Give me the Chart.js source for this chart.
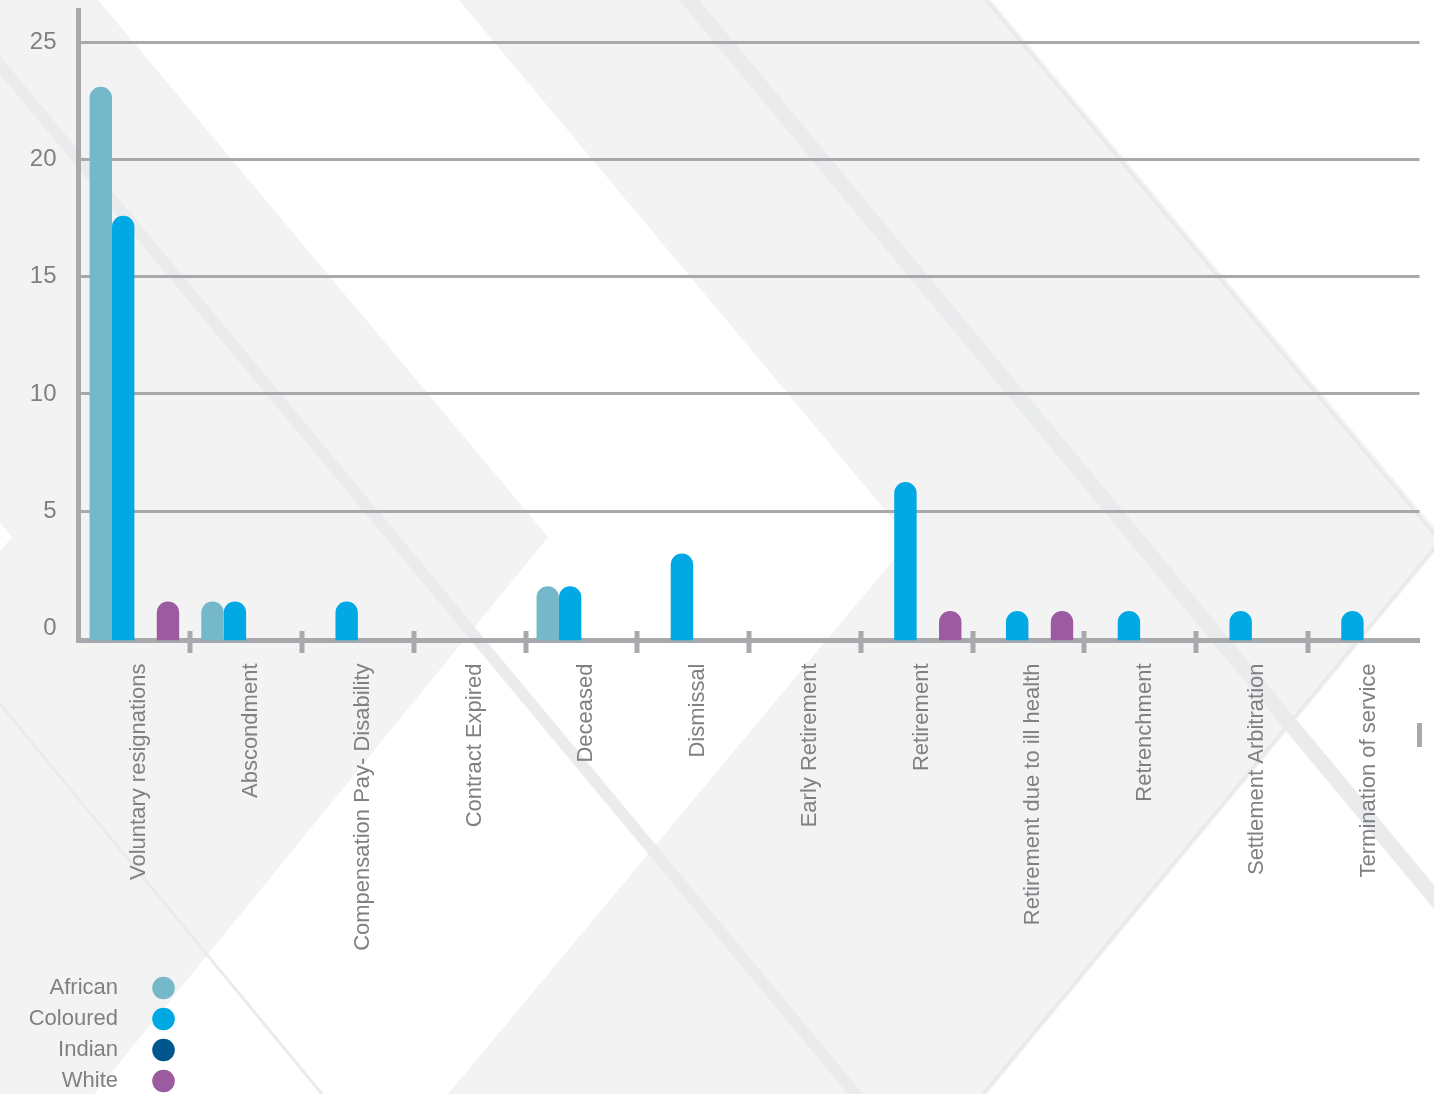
<!DOCTYPE html>
<html>
<head>
<meta charset="utf-8">
<title>Terminations by reason and race</title>
<style>
  html, body { margin: 0; padding: 0; background: #ffffff; overflow: hidden; }
  canvas { display: block; }
</style>
<script src="https://cdn.jsdelivr.net/npm/chart.js@4.4.1/dist/chart.umd.min.js"></script>
</head>
<body>
<canvas id="chart" width="1434" height="1094"></canvas>
<script>
// ---- Data -------------------------------------------------------------
const categories = [
  'Voluntary resignations',
  'Abscondment',
  'Compensation Pay- Disability',
  'Contract Expired',
  'Deceased',
  'Dismissal',
  'Early Retirement',
  'Retirement',
  'Retirement due to ill health',
  'Retrenchment',
  'Settlement Arbitration',
  'Termination of service'
];
const groups = ['African', 'Coloured', 'Indian', 'White'];

const african  = [23.1, 1.15, 0,    0, 1.8, 0,   0, 0,    0,    0,    0,    0];
const coloured = [17.6, 1.15, 1.15, 0, 1.8, 3.2, 0, 6.25, 0.75, 0.75, 0.75, 0.75];
const indian   = [0,    0,    0,    0, 0,   0,   0, 0,    0,    0,    0,    0];
const white    = [1.15, 0,    0,    0, 0,   0,   0, 0.75, 0.75, 0,    0,    0];

const yTicks = [0, 5, 10, 15, 20, 25];

// ---- Styling ----------------------------------------------------------
const seriesValues = [african, coloured, indian, white];
const seriesColors = ['#74b8c9', '#00a9e4', '#00578d', '#9c5ba0'];
const AXIS_GREY = '#a7a9ac';
const TEXT_GREY = '#7e8083';
const FONT = '"Liberation Sans", Arial, Helvetica, sans-serif';
const Y_MIN = -0.51;
const Y_MAX = 26.37;

// Soft chevron bands behind the plot
const backdrop = {
  id: 'backdrop',
  beforeDraw(chart) {
    const ctx = chart.ctx;
    const poly = (pts, fill) => {
      ctx.beginPath();
      ctx.moveTo(pts[0][0], pts[0][1]);
      for (let i = 1; i < pts.length; i++) ctx.lineTo(pts[i][0], pts[i][1]);
      ctx.closePath();
      ctx.fillStyle = fill;
      ctx.fill();
    };
    const line = (a, b, w, col) => {
      ctx.beginPath();
      ctx.moveTo(a[0], a[1]);
      ctx.lineTo(b[0], b[1]);
      ctx.lineWidth = w;
      ctx.strokeStyle = col;
      ctx.stroke();
    };
    ctx.save();
    ctx.fillStyle = '#ffffff';
    ctx.fillRect(0, 0, chart.width, chart.height);

    const band = '#f3f3f4';
    // left chevron
    poly([[0, 0], [98, 0], [548, 537], [94, 1094], [0, 1094]], band);
    poly([[0, 523], [12, 537], [0, 551]], '#ffffff');
    // middle chevron
    poly([[459, 0], [991, 0], [1445, 540], [987, 1094], [448, 1094], [910, 540]], band);

    // darker diagonal stripes
    const stripe = '#eaebec';
    poly([[0, 56], [0, 74], [848, 1094], [863, 1094]], stripe);
    poly([[679, 0], [699, 0], [1454, 909], [1434, 909]], stripe);

    // fine edge lines
    line([986, 0], [1440, 541], 3, '#e8e9ea');
    line([1440, 541], [983, 1094], 3, '#e8e9ea');
    line([0, 704], [322, 1094], 3, '#ebebec');
    ctx.restore();
  }
};

// Category separators that cross the x axis, plus the legend block
const decorations = {
  id: 'decorations',
  afterDraw(chart) {
    const ctx = chart.ctx;
    const x = chart.scales.x;
    const area = chart.chartArea;
    ctx.save();
    ctx.fillStyle = AXIS_GREY;
    for (let i = 1; i < categories.length; i++) {
      const px = (x.getPixelForValue(i - 1) + x.getPixelForValue(i)) / 2;
      ctx.fillRect(Math.round(px) - 2.5, area.bottom - 9.5, 5, 22);
    }
    ctx.fillRect(area.right - 2.5, area.bottom + 82.5, 5, 24);

    // legend: label on the left, colour dot on the right
    const top = chart.height - 106;
    chart.data.datasets.forEach((ds, i) => {
      const cy = top + i * 31;
      ctx.font = '22px ' + FONT;
      ctx.fillStyle = TEXT_GREY;
      ctx.textAlign = 'right';
      ctx.textBaseline = 'middle';
      ctx.fillText(ds.label, 118, cy);
      ctx.beginPath();
      ctx.arc(163.5, cy, 11.3, 0, Math.PI * 2);
      ctx.fillStyle = ds.backgroundColor;
      ctx.fill();
    });
    ctx.restore();
  }
};

new Chart(document.getElementById('chart'), {
  type: 'bar',
  data: {
    labels: categories,
    datasets: groups.map((g, i) => ({
      label: g,
      data: seriesValues[i].map(v => (v > 0 ? v : null)),
      backgroundColor: seriesColors[i],
      base: Y_MIN,
      categoryPercentage: 0.802,
      barPercentage: 1.0,
      borderWidth: 0,
      borderRadius: { topLeft: 12, topRight: 12, bottomLeft: 0, bottomRight: 0 }
    }))
  },
  options: {
    responsive: false,
    animation: false,
    devicePixelRatio: 1,
    layout: { padding: { left: 0, top: 10, right: 14.5, bottom: 0 } },
    plugins: {
      legend: { display: false },
      tooltip: { enabled: false }
    },
    scales: {
      x: {
        type: 'category',
        afterFit(scale) {
          scale.height = 1094 - 640.5;
          scale.paddingLeft = 0;
          scale.paddingRight = 0;
          scale.paddingTop = 0;
          scale.paddingBottom = 0;
        },
        grid: { display: false, drawTicks: false },
        border: { display: true, color: AXIS_GREY, width: 5 },
        ticks: {
          autoSkip: false,
          minRotation: 90,
          maxRotation: 90,
          padding: 23,
          labelOffset: 5,
          color: TEXT_GREY,
          font: { family: FONT, size: 22 }
        }
      },
      y: {
        min: Y_MIN,
        max: Y_MAX,
        afterBuildTicks(scale) { scale.ticks = yTicks.map(v => ({ value: v })); },
        afterFit(scale) {
          scale.width = 78.5;
          scale.paddingLeft = 0;
          scale.paddingRight = 0;
          scale.paddingTop = 0;
          scale.paddingBottom = 0;
        },
        grid: {
          color: c => (c.tick && c.tick.value === 0 ? 'rgba(0,0,0,0)' : AXIS_GREY),
          lineWidth: 3,
          drawTicks: false
        },
        border: { display: true, color: AXIS_GREY, width: 5 },
        ticks: {
          padding: 22,
          color: TEXT_GREY,
          font: { family: FONT, size: 24 }
        }
      }
    }
  },
  plugins: [backdrop, decorations]
});
</script>
</body>
</html>
